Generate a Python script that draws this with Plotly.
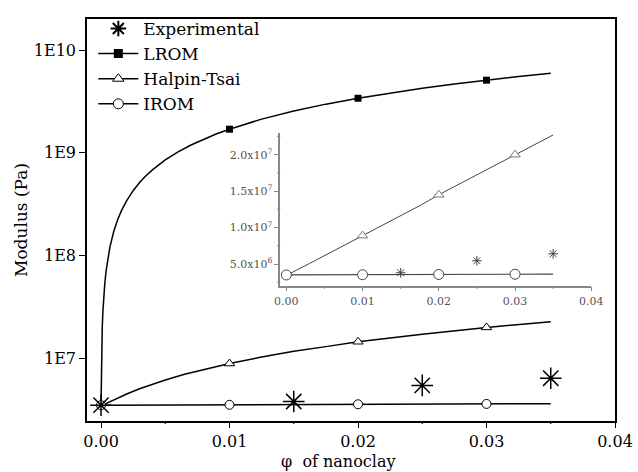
import math
import plotly.graph_objects as go

# ---------------- data ----------------
exp_x = [0.0, 0.015, 0.025, 0.035]
exp_y = [3.5e6, 3.8e6, 5.45e6, 6.4e6]

lrom_mark_x = [0.01, 0.02, 0.03]
lrom_mark_y = [1.7e9, 3.4e9, 5.1e9]
lrom_curve_x = [0.0, 0.00002, 0.00005, 0.0001, 0.00015, 0.0002, 0.0003, 0.0004, 0.0005,
                0.0007, 0.001, 0.0013, 0.0016, 0.002, 0.0025, 0.003, 0.0035, 0.004,
                0.005, 0.006, 0.007, 0.008, 0.009, 0.01, 0.0125, 0.015, 0.0175, 0.02,
                0.0225, 0.025, 0.0275, 0.03, 0.0325, 0.035]
lrom_curve_y = [3.5e6, 6.9e6, 1.2e7, 2.05e7, 2.9e7, 3.75e7, 5.45e7, 7.15e7, 8.85e7,
                1.225e8, 1.735e8, 2.245e8, 2.755e8, 3.435e8, 4.285e8, 5.135e8, 5.985e8, 6.835e8,
                8.535e8, 1.0235e9, 1.1935e9, 1.3635e9, 1.5335e9, 1.7e9, 2.13e9, 2.55e9, 2.98e9, 3.4e9,
                3.83e9, 4.25e9, 4.68e9, 5.1e9, 5.53e9, 5.95e9]

ht_mark_x = [0.01, 0.02, 0.03]
ht_mark_y = [8.9e6, 1.45e7, 2.0e7]
ht_curve_x = [0.0, 0.0005, 0.001, 0.0015, 0.002, 0.003, 0.004, 0.005, 0.0065, 0.008,
              0.01, 0.0125, 0.015, 0.0175, 0.02, 0.025, 0.03, 0.035]
ht_curve_y = [3.45e6, 3.7e6, 3.95e6, 4.2e6, 4.5e6, 5.05e6, 5.6e6, 6.15e6, 7.0e6, 7.8e6,
              8.9e6, 1.03e7, 1.17e7, 1.3e7, 1.45e7, 1.72e7, 2.0e7, 2.27e7]

irom_mark_x = [0.0, 0.01, 0.02, 0.03]
irom_mark_y = [3.5e6, 3.53e6, 3.57e6, 3.6e6]
irom_curve_x = [0.0, 0.01, 0.02, 0.03, 0.035]
irom_curve_y = [3.5e6, 3.53e6, 3.57e6, 3.6e6, 3.62e6]

main_yticks = [1e7, 1e8, 1e9, 1e10]
main_yticktext = ["1E7", "1E8", "1E9", "1E10"]
inset_yticks = [5e6, 1e7, 1.5e7, 2e7]
inset_yticktext = ["5.0x10<sup>6</sup>", "1.0x10<sup>7</sup>",
                   "1.5x10<sup>7</sup>", "2.0x10<sup>7</sup>"]

# minor tick positions
log_minor = [d * 10 ** e for e in range(6, 11) for d in range(2, 10)]
x_minor = [0.005 + 0.01 * i for i in range(4)]
inset_y_minor = [2.5e6 * i for i in range(1, 10)]

FONT = "DejaVu Serif"
MAIN_XR = [-0.00109, 0.04]
MAIN_YR = [6.39, 10.303]
IN_XR = [-0.0008, 0.04]
IN_YR = [2.03e6, 2.3e7]
fig = go.Figure()

# ---------------- main panel ----------------
for cx, cy in [(lrom_curve_x, lrom_curve_y), (ht_curve_x, ht_curve_y),
               (irom_curve_x, irom_curve_y)]:
    fig.add_trace(go.Scatter(x=cx, y=cy, mode="lines", line=dict(color="black", width=1.5),
                             showlegend=False))
fig.add_trace(go.Scatter(x=lrom_mark_x, y=lrom_mark_y, mode="markers",
                         marker=dict(symbol="square", size=7, color="black"),
                         showlegend=False))
fig.add_trace(go.Scatter(x=ht_mark_x, y=ht_mark_y, mode="markers",
                         marker=dict(symbol="triangle-up", size=9, color="white",
                                     line=dict(color="black", width=1)),
                         showlegend=False))
fig.add_trace(go.Scatter(x=irom_mark_x, y=irom_mark_y, mode="markers",
                         marker=dict(symbol="circle", size=9, color="white",
                                     line=dict(color="black", width=1)),
                         showlegend=False))
fig.add_trace(go.Scatter(x=exp_x, y=exp_y, mode="markers",
                         marker=dict(symbol="asterisk-open", size=18, color="black",
                                     line=dict(color="black", width=1.5)),
                         showlegend=False))

# legend entries
fig.add_trace(go.Scatter(x=[None], y=[None], mode="markers", name="Experimental",
                         marker=dict(symbol="asterisk-open", size=13, color="black",
                                     line=dict(color="black", width=2))))
fig.add_trace(go.Scatter(x=[None], y=[None], mode="lines+markers", name="LROM",
                         line=dict(color="black", width=1.5),
                         marker=dict(symbol="square", size=9, color="black")))
fig.add_trace(go.Scatter(x=[None], y=[None], mode="lines+markers", name="Halpin-Tsai",
                         line=dict(color="black", width=1.5),
                         marker=dict(symbol="triangle-up", size=10, color="white",
                                     line=dict(color="black", width=1))))
fig.add_trace(go.Scatter(x=[None], y=[None], mode="lines+markers", name="IROM",
                         line=dict(color="black", width=1.5),
                         marker=dict(symbol="circle", size=10, color="white",
                                     line=dict(color="black", width=1))))

# ---------------- inset ----------------
GR = "#444444"
fig.add_trace(go.Scatter(x=ht_curve_x, y=ht_curve_y, mode="lines", xaxis="x2", yaxis="y2",
                         line=dict(color=GR, width=1), showlegend=False))
fig.add_trace(go.Scatter(x=irom_curve_x, y=irom_curve_y, mode="lines", xaxis="x2", yaxis="y2",
                         line=dict(color=GR, width=1.2), showlegend=False))
fig.add_trace(go.Scatter(x=ht_mark_x, y=ht_mark_y, mode="markers", xaxis="x2", yaxis="y2",
                         marker=dict(symbol="triangle-up", size=9, color="white",
                                     line=dict(color="#777777", width=1)),
                         showlegend=False))
fig.add_trace(go.Scatter(x=irom_mark_x, y=irom_mark_y, mode="markers", xaxis="x2", yaxis="y2",
                         marker=dict(symbol="circle", size=10, color="white",
                                     line=dict(color=GR, width=1)),
                         showlegend=False))
fig.add_trace(go.Scatter(x=exp_x[1:], y=exp_y[1:], mode="markers", xaxis="x2", yaxis="y2",
                         marker=dict(symbol="asterisk-open", size=8, color=GR,
                                     line=dict(color=GR, width=1)),
                         showlegend=False))

# ---------------- minor ticks as short axis-anchored strokes ----------------
shapes = []
for v in log_minor:
    lv = math.log10(v)  # shapes on a log axis take log10 positions
    if MAIN_YR[0] <= lv <= MAIN_YR[1]:
        shapes.append(dict(type="line", xref="paper", yref="y", xsizemode="pixel",
                           xanchor=0, x0=-4, x1=0, y0=lv, y1=lv,
                           line=dict(color="black", width=1.2)))
for v in x_minor:
    shapes.append(dict(type="line", xref="x", yref="paper", ysizemode="pixel",
                       yanchor=0, y0=-3, y1=0, x0=v, x1=v,
                       line=dict(color="black", width=1.2)))
for v in x_minor:
    shapes.append(dict(type="line", xref="x2", yref="y2 domain", ysizemode="pixel",
                       yanchor=0, y0=-3, y1=0, x0=v, x1=v,
                       line=dict(color="#888888", width=1.2)))
for v in inset_y_minor:
    if v not in inset_yticks and IN_YR[0] <= v <= IN_YR[1]:
        shapes.append(dict(type="line", xref="x2 domain", yref="y2", xsizemode="pixel",
                           xanchor=0, x0=-3, x1=0, y0=v, y1=v,
                           line=dict(color="#888888", width=1.2)))

fig.update_layout(
    width=638, height=472,
    margin=dict(l=87, r=21, t=11, b=51),
    paper_bgcolor="white", plot_bgcolor="white",
    font=dict(family=FONT, color="black", size=16),
    showlegend=True,
    shapes=shapes,
    legend=dict(x=0.012, y=1.02, xanchor="left", yanchor="top",
                bgcolor="rgba(0,0,0,0)", font=dict(family=FONT, size=17),
                tracegroupgap=0, itemwidth=40),
    xaxis=dict(range=MAIN_XR, tickmode="linear", tick0=0, dtick=0.01,
               tickformat=".2f", automargin=False,
               showline=True, linecolor="black", linewidth=1.5, mirror=True,
               ticks="outside", ticklen=5, tickwidth=1.2, tickcolor="black",
               showgrid=False, zeroline=False,
               tickfont=dict(size=16)),
    yaxis=dict(type="log", range=MAIN_YR, tickmode="array",
               tickvals=main_yticks, ticktext=main_yticktext,
               showline=True, linecolor="black", linewidth=1.5, mirror=True,
               ticks="outside", ticklen=6, tickwidth=1.2, tickcolor="black",
               showgrid=False, zeroline=False,
               tickfont=dict(size=16),
               title=dict(text="Modulus (Pa)", font=dict(size=17), standoff=2)),
    xaxis2=dict(domain=[0.366, 0.955], anchor="y2", range=IN_XR,
                tickmode="linear", tick0=0, dtick=0.01, tickformat=".2f",
                showline=True, linecolor="#888888", linewidth=1.5,
                ticks="outside", ticklen=4, tickcolor="#888888",
                showgrid=False, zeroline=False,
                tickfont=dict(size=11, color="#555555")),
    yaxis2=dict(domain=[0.3366, 0.717], anchor="x2", range=IN_YR,
                tickmode="array", tickvals=inset_yticks, ticktext=inset_yticktext,
                showline=True, linecolor="#888888", linewidth=1.5,
                ticks="outside", ticklen=4, tickcolor="#888888",
                showgrid=False, zeroline=False,
                tickfont=dict(size=11, color="#555555")),
    annotations=[dict(text="φ  of nanoclay", xref="paper", yref="paper",
                      x=0.475, y=-0.1, xanchor="center", yanchor="middle",
                      showarrow=False, font=dict(size=16, family=FONT))],
)

fig.write_html("out.html")
